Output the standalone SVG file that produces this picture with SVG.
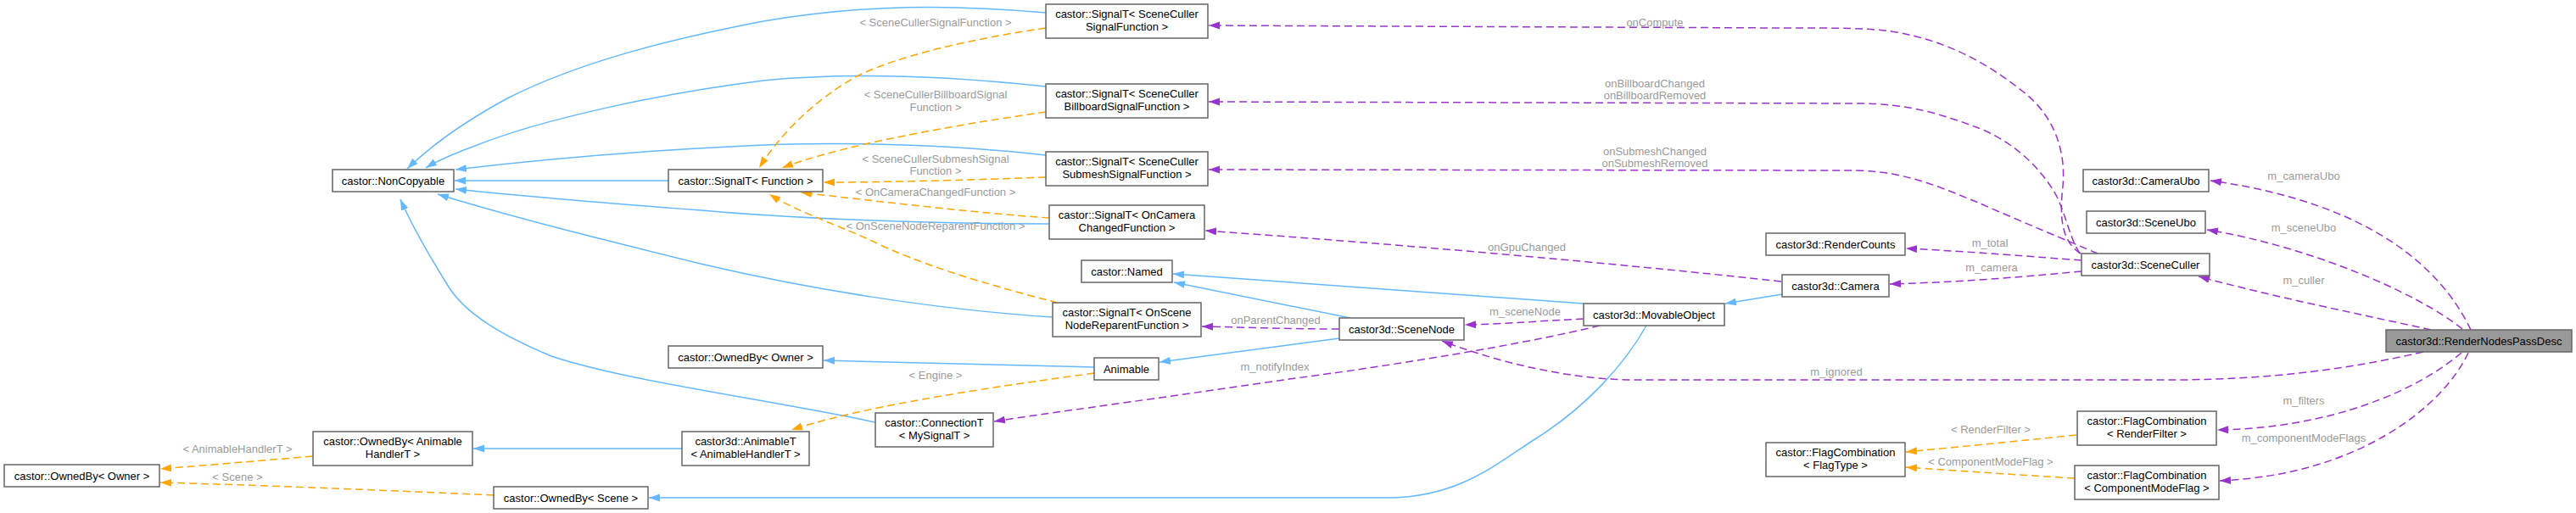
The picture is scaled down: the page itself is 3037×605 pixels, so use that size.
<svg xmlns="http://www.w3.org/2000/svg" width="3037" height="605" viewBox="0 0 3037 605">
<style>
.n rect{fill:#fff;stroke:#666;stroke-width:1.5}
.n.hl rect{fill:#999}
.n text{font-family:"Liberation Sans",Arial,sans-serif;font-size:13px;fill:#000;text-anchor:middle}
.e path{fill:none;stroke-width:1.5}
.b{stroke:#63B8FF}
.o{stroke:#FFA500;stroke-dasharray:9,5}
.p{stroke:#9A32CD;stroke-dasharray:9,5}
.lbl text{font-family:"Liberation Sans",Arial,sans-serif;font-size:13px;fill:#9A9A9A;text-anchor:middle}
</style>
<defs>
<marker id="ab" markerUnits="userSpaceOnUse" markerWidth="14" markerHeight="10" refX="13" refY="4.5" orient="auto"><path d="M0,0 L13,4.5 L0,9 z" fill="#63B8FF"/></marker>
<marker id="ao" markerUnits="userSpaceOnUse" markerWidth="14" markerHeight="10" refX="13" refY="4.5" orient="auto"><path d="M0,0 L13,4.5 L0,9 z" fill="#FFA500"/></marker>
<marker id="ap" markerUnits="userSpaceOnUse" markerWidth="14" markerHeight="10" refX="13" refY="4.5" orient="auto"><path d="M0,0 L13,4.5 L0,9 z" fill="#9A32CD"/></marker>
</defs>
<rect width="3037" height="605" fill="#fff"/>
<g id="connectors" class="e">
<!-- inheritance (blue) -->
<path class="b" marker-end="url(#ab)" d="M1233,15 C1120,5 1020,5 900,25 C780,48 680,75 600,115 C550,142 510,170 480,199"/>
<path class="b" marker-end="url(#ab)" d="M1233,102 C1120,90 1000,85 900,95 C780,110 640,140 560,172 C530,183 515,190 502,198"/>
<path class="b" marker-end="url(#ab)" d="M1233,183 C1120,170 980,166 860,173 C720,180 620,190 537,200"/>
<path class="b" marker-end="url(#ab)" d="M788,213 L536,213"/>
<path class="b" marker-end="url(#ab)" d="M1237,264 C1100,264 950,258 850,250 C720,240 620,232 537,223"/>
<path class="b" marker-end="url(#ab)" d="M1241,374 C1100,365 950,340 830,312 C700,280 600,255 516,229"/>
<path class="b" marker-end="url(#ab)" d="M1032,498 C900,470 740,450 650,420 C590,395 550,370 530,340 C505,300 485,265 472,235"/>
<path class="b" marker-end="url(#ab)" d="M1867,358 L1383,323"/>
<path class="b" marker-end="url(#ab)" d="M1592,375 L1384,333"/>
<path class="b" marker-end="url(#ab)" d="M1579,399 L1367,427"/>
<path class="b" marker-end="url(#ab)" d="M2101,347 L2034,358"/>
<path class="b" marker-end="url(#ab)" d="M1290,433 L971,425"/>
<path class="b" marker-end="url(#ab)" d="M804,529 L558,529"/>
<path class="b" marker-end="url(#ab)" d="M1941,384 C1915,430 1870,480 1811,517 C1760,550 1720,585 1640,587 L765,587"/>
<!-- template instantiation (orange) -->
<path class="o" marker-end="url(#ao)" d="M1233,33 C1150,45 1060,65 1010,90 C960,118 920,158 895,198"/>
<path class="o" marker-end="url(#ao)" d="M1233,132 C1150,144 1000,168 922,198"/>
<path class="o" marker-end="url(#ao)" d="M1233,209 C1150,212 1050,215 971,215"/>
<path class="o" marker-end="url(#ao)" d="M1237,257 C1150,251 1040,238 944,227"/>
<path class="o" marker-end="url(#ao)" d="M1247,357 C1160,335 1080,310 1030,285 C980,262 940,250 907,229"/>
<path class="o" marker-end="url(#ao)" d="M1290,440 C1180,455 1020,478 933,507"/>
<path class="o" marker-end="url(#ao)" d="M369,538 C300,544 250,548 189,553"/>
<path class="o" marker-end="url(#ao)" d="M582,584 C450,578 300,572 189,569"/>
<path class="o" marker-end="url(#ao)" d="M2448,513 C2380,520 2320,526 2247,533"/>
<path class="o" marker-end="url(#ao)" d="M2446,564 C2380,560 2320,556 2247,551"/>
<!-- usage (purple) -->
<path class="p" marker-end="url(#ap)" d="M2453,299 C2430,285 2428,255 2432,220 C2436,175 2420,135 2385,108 C2350,80 2300,48 2230,37 C2200,33 2170,33 2100,33 L1425,30"/>
<path class="p" marker-end="url(#ap)" d="M2452,299 C2440,280 2436,255 2425,232 C2405,195 2370,165 2330,150 C2290,135 2250,122 2190,122 L1425,120"/>
<path class="p" marker-end="url(#ap)" d="M2473,299 C2440,285 2380,260 2330,238 C2290,222 2250,203 2190,201 L1425,200"/>
<path class="p" marker-end="url(#ap)" d="M2454,307 C2400,303 2330,297 2247,293"/>
<path class="p" marker-end="url(#ap)" d="M2454,320 C2400,325 2330,332 2228,335"/>
<path class="p" marker-end="url(#ap)" d="M2100,332 C1900,310 1650,288 1421,272"/>
<path class="p" marker-end="url(#ap)" d="M1579,388 C1520,388 1470,386 1417,385"/>
<path class="p" marker-end="url(#ap)" d="M1867,376 C1820,378 1780,382 1727,383"/>
<path class="p" marker-end="url(#ap)" d="M1886,384 C1800,405 1650,430 1520,447 C1400,465 1250,485 1172,497"/>
<path class="p" marker-end="url(#ap)" d="M2857,415 C2750,440 2650,448 2560,448 L1920,448 C1840,446 1760,425 1700,402"/>
<path class="p" marker-end="url(#ap)" d="M2866,389 C2780,370 2680,350 2592,326"/>
<path class="p" marker-end="url(#ap)" d="M2903,388 C2850,345 2720,290 2602,271"/>
<path class="p" marker-end="url(#ap)" d="M2913,389 C2880,320 2800,240 2606,213"/>
<path class="p" marker-end="url(#ap)" d="M2902,416 C2850,460 2750,505 2614,507"/>
<path class="p" marker-end="url(#ap)" d="M2910,416 C2880,480 2780,560 2617,567"/>
</g>
<g id="labels" class="lbl">
<text x="1103" y="31">&lt; SceneCullerSignalFunction &gt;</text>
<text x="1103" y="116">&lt; SceneCullerBillboardSignal</text>
<text x="1103" y="131">Function &gt;</text>
<text x="1103" y="192">&lt; SceneCullerSubmeshSignal</text>
<text x="1103" y="206">Function &gt;</text>
<text x="1103" y="231">&lt; OnCameraChangedFunction &gt;</text>
<text x="1103" y="271">&lt; OnSceneNodeReparentFunction &gt;</text>
<text x="1103" y="447">&lt; Engine &gt;</text>
<text x="280" y="534">&lt; AnimableHandlerT &gt;</text>
<text x="280" y="567">&lt; Scene &gt;</text>
<text x="1951" y="31">onCompute</text>
<text x="1951" y="103">onBillboardChanged</text>
<text x="1951" y="117">onBillboardRemoved</text>
<text x="1951" y="183">onSubmeshChanged</text>
<text x="1951" y="197">onSubmeshRemoved</text>
<text x="1800" y="296">onGpuChanged</text>
<text x="1504" y="382">onParentChanged</text>
<text x="1798" y="372">m_sceneNode</text>
<text x="1503" y="437">m_notifyIndex</text>
<text x="2165" y="443">m_ignored</text>
<text x="2346" y="291">m_total</text>
<text x="2348" y="320">m_camera</text>
<text x="2716" y="212">m_cameraUbo</text>
<text x="2716" y="273">m_sceneUbo</text>
<text x="2716" y="335">m_culler</text>
<text x="2716" y="477">m_filters</text>
<text x="2716" y="521">m_componentModeFlags</text>
<text x="2347" y="511">&lt; RenderFilter &gt;</text>
<text x="2347" y="549">&lt; ComponentModeFlag &gt;</text>
</g>
<g id="node-RenderNodesPassDesc" class="n hl"><rect x="2813" y="389" width="219" height="26"/><text x="2922.5" y="407">castor3d::RenderNodesPassDesc</text></g>
<g id="node-CameraUbo" class="n"><rect x="2456" y="200" width="148" height="26"/><text x="2530" y="218">castor3d::CameraUbo</text></g>
<g id="node-SceneUbo" class="n"><rect x="2460" y="249" width="140" height="26"/><text x="2530" y="267">castor3d::SceneUbo</text></g>
<g id="node-SceneCuller" class="n"><rect x="2454" y="299" width="151" height="26"/><text x="2529.5" y="317">castor3d::SceneCuller</text></g>
<g id="node-RenderCounts" class="n"><rect x="2082" y="275" width="164" height="26"/><text x="2164" y="293">castor3d::RenderCounts</text></g>
<g id="node-Camera" class="n"><rect x="2101" y="324" width="126" height="26"/><text x="2164" y="342">castor3d::Camera</text></g>
<g id="node-MovableObject" class="n"><rect x="1867" y="358" width="166" height="26"/><text x="1950" y="376">castor3d::MovableObject</text></g>
<g id="node-SceneNode" class="n"><rect x="1579" y="375" width="147" height="26"/><text x="1652.5" y="393">castor3d::SceneNode</text></g>
<g id="node-Named" class="n"><rect x="1275" y="307" width="107" height="26"/><text x="1328.5" y="325">castor::Named</text></g>
<g id="node-SignalReparent" class="n"><rect x="1241" y="357" width="175" height="40"/><text x="1328.5" y="373">castor::SignalT&lt; OnScene</text><text x="1328.5" y="388">NodeReparentFunction &gt;</text></g>
<g id="node-Animable" class="n"><rect x="1290" y="422" width="76" height="26"/><text x="1328" y="440">Animable</text></g>
<g id="node-ConnectionT" class="n"><rect x="1032" y="487" width="139" height="40"/><text x="1101.5" y="503">castor::ConnectionT</text><text x="1101.5" y="518">&lt; MySignalT &gt;</text></g>
<g id="node-AnimableT" class="n"><rect x="804" y="509" width="150" height="40"/><text x="879" y="525">castor3d::AnimableT</text><text x="879" y="540">&lt; AnimableHandlerT &gt;</text></g>
<g id="node-OwnedByOwnerMid" class="n"><rect x="788" y="408" width="182" height="26"/><text x="879" y="426">castor::OwnedBy&lt; Owner &gt;</text></g>
<g id="node-OwnedByScene" class="n"><rect x="582" y="574" width="182" height="26"/><text x="673" y="592">castor::OwnedBy&lt; Scene &gt;</text></g>
<g id="node-OwnedByAnimableHandlerT" class="n"><rect x="369" y="509" width="188" height="40"/><text x="463" y="525">castor::OwnedBy&lt; Animable</text><text x="463" y="540">HandlerT &gt;</text></g>
<g id="node-OwnedByOwnerLeft" class="n"><rect x="5" y="548" width="183" height="26"/><text x="96.5" y="566">castor::OwnedBy&lt; Owner &gt;</text></g>
<g id="node-NonCopyable" class="n"><rect x="392" y="200" width="143" height="26"/><text x="463.5" y="218">castor::NonCopyable</text></g>
<g id="node-SignalFunction" class="n"><rect x="788" y="200" width="182" height="26"/><text x="879" y="218">castor::SignalT&lt; Function &gt;</text></g>
<g id="node-SignalSceneCuller" class="n"><rect x="1233" y="5" width="191" height="40"/><text x="1328.5" y="21">castor::SignalT&lt; SceneCuller</text><text x="1328.5" y="36">SignalFunction &gt;</text></g>
<g id="node-SignalBillboard" class="n"><rect x="1233" y="99" width="191" height="40"/><text x="1328.5" y="115">castor::SignalT&lt; SceneCuller</text><text x="1328.5" y="130">BillboardSignalFunction &gt;</text></g>
<g id="node-SignalSubmesh" class="n"><rect x="1233" y="179" width="191" height="40"/><text x="1328.5" y="195">castor::SignalT&lt; SceneCuller</text><text x="1328.5" y="210">SubmeshSignalFunction &gt;</text></g>
<g id="node-SignalOnCamera" class="n"><rect x="1237" y="242" width="183" height="40"/><text x="1328.5" y="258">castor::SignalT&lt; OnCamera</text><text x="1328.5" y="273">ChangedFunction &gt;</text></g>
<g id="node-FlagType" class="n"><rect x="2082" y="522" width="164" height="40"/><text x="2164" y="538">castor::FlagCombination</text><text x="2164" y="553">&lt; FlagType &gt;</text></g>
<g id="node-FlagRenderFilter" class="n"><rect x="2449" y="485" width="164" height="40"/><text x="2531" y="501">castor::FlagCombination</text><text x="2531" y="516">&lt; RenderFilter &gt;</text></g>
<g id="node-FlagComponentModeFlag" class="n"><rect x="2446" y="549" width="170" height="40"/><text x="2531" y="565">castor::FlagCombination</text><text x="2531" y="580">&lt; ComponentModeFlag &gt;</text></g>
</svg>
